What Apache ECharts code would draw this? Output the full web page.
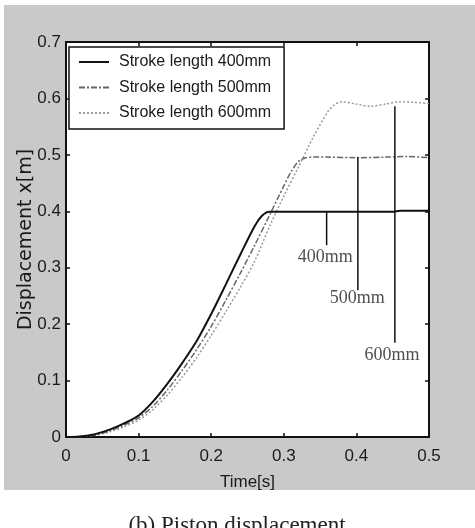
<!DOCTYPE html>
<html>
<head>
<meta charset="utf-8">
<script src="https://cdn.jsdelivr.net/npm/echarts@6/dist/echarts.min.js"></script>
<style>
    html, body { margin: 0; padding: 0; background: #fff; }
    #chart { width: 475px; height: 528px; }
</style>
</head>
<body>
<div id="chart"></div>
<script>
    // values
    var seriesNames = ['Stroke length 400mm', 'Stroke length 500mm', 'Stroke length 600mm'];

    var time400 = [0, 0.02, 0.04, 0.06, 0.08, 0.10, 0.12, 0.14, 0.16, 0.18, 0.20, 0.22, 0.24, 0.26, 0.27, 0.28, 0.30, 0.35, 0.40, 0.45, 0.46, 0.50];
    var disp400 = [0, 0.001, 0.005, 0.013, 0.024, 0.038, 0.063, 0.095, 0.131, 0.170, 0.218, 0.270, 0.323, 0.374, 0.392, 0.399, 0.399, 0.399, 0.399, 0.399, 0.401, 0.401];

    var time500 = [0, 0.02, 0.04, 0.06, 0.08, 0.10, 0.12, 0.14, 0.16, 0.18, 0.20, 0.22, 0.24, 0.26, 0.28, 0.30, 0.31, 0.32, 0.33, 0.34, 0.36, 0.40, 0.44, 0.47, 0.50];
    var disp500 = [0, 0.001, 0.004, 0.011, 0.021, 0.034, 0.055, 0.084, 0.118, 0.155, 0.196, 0.242, 0.290, 0.340, 0.392, 0.445, 0.470, 0.488, 0.495, 0.496, 0.496, 0.495, 0.496, 0.497, 0.495];

    var time600 = [0, 0.02, 0.04, 0.06, 0.08, 0.10, 0.12, 0.14, 0.16, 0.18, 0.20, 0.22, 0.24, 0.26, 0.28, 0.30, 0.32, 0.34, 0.36, 0.37, 0.38, 0.40, 0.42, 0.44, 0.46, 0.48, 0.50];
    var disp600 = [0, 0.001, 0.003, 0.009, 0.018, 0.030, 0.049, 0.075, 0.106, 0.141, 0.180, 0.222, 0.265, 0.312, 0.372, 0.427, 0.478, 0.530, 0.575, 0.589, 0.594, 0.590, 0.586, 0.590, 0.594, 0.593, 0.591];

    // pointer lines and their labels
    var markerLabels = ['400mm', '500mm', '600mm'];
    var markerTimes = [0.359, 0.402, 0.453];
    var markerTops = [0.399, 0.496, 0.586];
    var markerBottoms = [0.34, 0.26, 0.167];
    var labelTimes = [0.357, 0.401, 0.449];
    var labelValues = [0.319, 0.245, 0.144];

    function pairs(xs, ys) {
        return xs.map(function (x, i) { return [x, ys[i]]; });
    }

    var lineStyles = [
        { color: '#111', width: 2, type: 'solid' },
        { color: '#666', width: 1.5, type: [6, 2, 2, 2] },
        { color: '#999', width: 1.5, type: [2, 2] }
    ];
    var curves = [pairs(time400, disp400), pairs(time500, disp500), pairs(time600, disp600)];

    var series = curves.map(function (d, i) {
        return {
            name: seriesNames[i],
            type: 'line',
            data: d,
            showSymbol: false,
            symbol: 'none',
            smooth: 0.3,
            lineStyle: lineStyles[i],
            itemStyle: { color: lineStyles[i].color },
            z: 3 - i
        };
    });

    markerTimes.forEach(function (t, i) {
        series.push({
            name: 'marker' + i,
            type: 'line',
            data: [[t, markerTops[i]], [t, markerBottoms[i]]],
            symbol: 'none',
            lineStyle: { color: '#111', width: 1.5 },
            silent: true
        });
    });

    series.push({
        name: 'markerText',
        type: 'scatter',
        symbolSize: 1,
        itemStyle: { color: 'rgba(0,0,0,0)' },
        data: labelTimes.map(function (t, i) {
            return { value: [t, labelValues[i]], name: markerLabels[i] };
        }),
        label: {
            show: true,
            position: 'inside',
            formatter: '{b}',
            color: '#222',
            fontFamily: 'Liberation Serif',
            fontSize: 18
        },
        silent: true
    });

    var axisText = { color: '#1a1a1a', fontFamily: 'Liberation Sans', fontSize: 17 };
    var boxLine = { show: true, onZero: false, lineStyle: { color: '#111', width: 2 } };
    var innerTick = { show: true, inside: true, length: 4, lineStyle: { color: '#111', width: 1.5 } };

    var option = {
        backgroundColor: '#fff',
        animation: false,
        graphic: [
            {
                type: 'rect',
                shape: { x: 4, y: 5, width: 471, height: 485 },
                style: { fill: '#c9c9c9' },
                z: -10
            },
            {
                type: 'text',
                x: 237,
                y: 526,
                style: {
                    text: '(b) Piston displacement',
                    fill: '#222',
                    font: '23px "Liberation Serif"',
                    textAlign: 'center',
                    textVerticalAlign: 'middle'
                }
            }
        ],
        grid: {
            left: 66,
            right: 46,
            top: 42,
            bottom: 91,
            show: true,
            backgroundColor: '#fff',
            borderWidth: 0
        },
        legend: {
            data: seriesNames,
            orient: 'vertical',
            left: 69,
            top: 47,
            padding: [7, 13, 8, 9],
            itemWidth: 30,
            itemHeight: 16,
            itemGap: 9.5,
            backgroundColor: '#fff',
            borderColor: '#111',
            borderWidth: 1.5,
            borderRadius: 0,
            itemStyle: { color: 'rgba(0,0,0,0)', borderColor: 'rgba(0,0,0,0)', borderWidth: 0 },
            textStyle: {
                color: '#1a1a1a',
                fontFamily: 'Liberation Sans',
                fontSize: 16,
                padding: [0, 0, 0, 5]
            }
        },
        xAxis: [
            {
                type: 'value',
                min: 0,
                max: 0.5,
                interval: 0.1,
                name: 'Time[s]',
                nameLocation: 'middle',
                nameGap: 37,
                nameMoveOverlap: false,
                nameTextStyle: axisText,
                axisLine: boxLine,
                axisTick: innerTick,
                splitLine: { show: false },
                axisLabel: Object.assign({ margin: 11 }, axisText)
            },
            {
                type: 'value',
                position: 'top',
                min: 0,
                max: 0.5,
                interval: 0.1,
                axisLine: boxLine,
                axisTick: innerTick,
                splitLine: { show: false },
                axisLabel: { show: false }
            }
        ],
        yAxis: [
            {
                type: 'value',
                min: 0,
                max: 0.7,
                interval: 0.1,
                name: 'Displacement x[m]',
                nameLocation: 'middle',
                nameGap: 30,
                nameMoveOverlap: false,
                nameTextStyle: { color: '#1a1a1a', fontFamily: 'DejaVu Sans', fontSize: 19 },
                axisLine: boxLine,
                axisTick: innerTick,
                splitLine: { show: false },
                axisLabel: Object.assign({ margin: 5 }, axisText)
            },
            {
                type: 'value',
                position: 'right',
                min: 0,
                max: 0.7,
                interval: 0.1,
                axisLine: boxLine,
                axisTick: innerTick,
                splitLine: { show: false },
                axisLabel: { show: false }
            }
        ],
        series: series
    };

    var myChart = echarts.init(document.getElementById('chart'));
    myChart.setOption(option);
    window.addEventListener('resize', myChart.resize);
</script>
</body>
</html>
